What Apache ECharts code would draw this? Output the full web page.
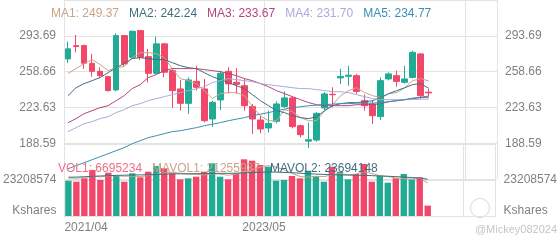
<!DOCTYPE html>
<html><head><meta charset="utf-8">
<script src="https://cdn.jsdelivr.net/npm/echarts@6/dist/echarts.min.js"></script>
<style>html,body{margin:0;padding:0;background:#fff}#c{width:560px;height:240px}</style>
</head><body><div id="c"></div>
<script>
// ---------- data ----------
const months = ['2021/04','2021/05','2021/06','2021/07','2021/08','2021/09','2021/10','2021/11','2021/12',
 '2022/01','2022/02','2022/03','2022/04','2022/05','2022/06','2022/07','2022/08','2022/09','2022/10','2022/11','2022/12',
 '2023/01','2023/02','2023/03','2023/04','2023/05','2023/06','2023/07','2023/08','2023/09','2023/10','2023/11','2023/12',
 '2024/01','2024/02','2024/03','2024/04','2024/05','2024/06','2024/07','2024/08','2024/09','2024/10','2024/11','2024/12',
 '2025/01'];
const blankSlots = 8;
const openP  = [271.1,284.0,284.1,266.8,258.9,253.7,240.7,293.9,272.6,298.8,273.3,257.0,285.8,259.6,241.7,227.6,249.1,241.7,212.3,230.9,258.9,248.2,244.9,224.4,211.3,203.5,210.0,224.4,232.9,205.7,190.6,191.7,223.1,236.5,252.5,254.0,254.7,230.2,227.0,214.6,251.5,254.7,248.2,253.0,276.0,238.5];
const closeP = [280.9,283.2,266.8,258.9,254.7,240.0,293.9,266.2,298.1,272.6,257.0,285.8,258.0,240.0,227.6,250.5,243.3,210.6,228.6,257.0,246.6,246.2,225.3,212.3,202.5,208.0,227.0,232.9,204.8,196.9,192.0,217.8,236.8,236.0,253.8,255.2,239.3,225.3,215.5,249.8,256.4,249.1,251.5,277.5,235.1,237.8];
const lowP   = [267.2,277.5,261.3,253.7,252.5,239.3,239.3,264.0,271.0,270.0,248.2,256.0,253.0,223.1,220.4,217.2,240.0,209.0,204.6,221.1,237.4,237.0,220.4,197.6,198.2,199.2,208.0,223.0,203.0,194.3,183.9,190.0,220.4,223.7,246.6,244.9,237.0,220.4,207.4,211.3,250.0,243.9,247.0,252.0,231.9,234.2];
const highP  = [288.0,294.5,285.1,276.0,262.9,254.7,296.1,294.5,299.0,299.5,280.9,292.9,286.5,261.3,250.5,253.0,264.5,251.5,230.2,259.6,262.9,262.0,251.5,227.0,215.5,220.4,229.5,239.3,234.5,207.0,208.9,219.0,238.6,243.3,261.3,264.5,256.4,236.1,230.2,253.0,258.0,259.6,264.5,279.2,276.5,241.7];
const ma1 = [256.7,261.6,266.5,270.4,265.5,259.6,262.5,263.5,272.3,277.2,277.2,276.3,272.3,261.6,251.8,249.8,246.9,240.0,232.2,237.1,238.1,238.1,235.1,224.3,215.5,210.6,210.6,221.4,219.4,213.6,210.6,210.6,220.4,226.3,235.1,240.0,242.9,238.1,235.1,233.2,237.1,238.1,242.9,249.8,251.8,249.37];
const ma2 = [235.1,242.9,246.9,249.8,252.8,257.6,262.5,266.5,271.4,272.3,271.4,270.4,270.4,267.4,264.5,262.5,261.6,257.6,253.7,250.8,247.9,244.9,242.0,236.1,230.2,225.3,220.4,218.5,215.5,213.6,212.6,214.5,220.4,225.3,227.3,228.3,228.3,229.2,230.2,233.2,237.1,240.0,242.9,245.9,246.9,242.24];
const ma3 = [208.7,212.6,217.5,220.4,223.4,225.3,230.2,235.1,242.0,245.9,252.8,255.7,259.6,261.6,261.6,261.6,261.6,260.6,259.6,258.6,256.7,254.7,251.8,249.8,246.9,243.9,240.0,237.1,234.1,231.2,228.3,226.3,225.3,225.3,225.3,225.3,226.3,226.3,226.3,227.3,229.2,230.2,231.2,232.2,233.2,233.67];
const ma4 = [199.9,203.8,207.7,209.7,212.6,214.5,218.5,221.4,225.3,227.3,230.2,232.2,234.1,236.1,238.1,240.0,242.0,243.9,247.9,249.8,251.8,250.8,249.8,248.8,246.9,245.9,244.9,243.9,242.9,242.0,242.0,241.0,240.0,239.0,239.0,238.1,236.1,234.1,232.2,231.2,231.2,231.2,231.2,231.2,231.7,231.70];
const ma5 = [163.6,166.6,169.5,172.4,175.4,178.3,181.3,184.2,188.1,191.0,194.0,195.9,197.9,199.9,200.8,202.3,203.8,205.7,207.2,208.7,210.6,212.1,213.6,215.5,217.0,218.5,220.4,221.9,223.4,224.3,225.3,225.8,226.3,226.8,227.3,227.3,227.8,227.8,227.8,228.3,229.2,230.2,231.2,232.7,233.6,234.77];
const volume = [22760000,22110000,24300000,29660000,23210000,27920000,25790000,22110000,27530000,24950000,28560000,32240000,30750000,27530000,23660000,24300000,25340000,28560000,33980000,25340000,23660000,27530000,36550000,35650000,32880000,31780000,22760000,23210000,25790000,24300000,29200000,25790000,22110000,31780000,28560000,23660000,27080000,33520000,22110000,25900000,21470000,24300000,27080000,23660000,24950000,6695234];
const mavol1 = [24500000,24300000,24800000,25600000,25200000,25800000,26000000,25600000,25700000,25400000,26000000,27000000,27800000,28200000,27600000,27000000,26800000,26500000,27200000,27000000,26300000,27000000,28500000,29800000,31500000,32500000,31500000,29800000,27500000,25500000,25000000,25600000,25400000,26500000,27500000,26500000,27000000,28500000,27500000,26000000,25500000,24500000,24000000,23800000,24500000,21255937];
const mavol2 = [25000000,25100000,25300000,25600000,25800000,26000000,26200000,26300000,26400000,26500000,26600000,26800000,27000000,27100000,27200000,27200000,27300000,27300000,27400000,27500000,27500000,27600000,27800000,28000000,28200000,28400000,28300000,28100000,27900000,27600000,27300000,27000000,26800000,26600000,26500000,26400000,26300000,26200000,26000000,25800000,25600000,25400000,25100000,24800000,24500000,23694148];
const priceTickLabels = ['153.56','188.59','223.63','258.66','293.69','328.72'];
const volumeTickLabels = ['Kshares','23208574','46417148'];

// ---------- build ----------
const FONT = 'Liberation Sans, Arial, sans-serif';
const UP = '#22ab94', DOWN = '#f2476a';
const GRID_LINE = '#e3e3e3', LABEL = '#808080';
const maColors = ['#c7a587','#3f6e7e','#b2467f','#a9abdc','#3b8db3'];
const volColors = ['#ef6f86','#c7a587','#3f6e7e'];

const cats = months.concat(new Array(blankSlots).fill(''));
const boundaryCats = cats.concat(['']);
const pNum = priceTickLabels.map(Number);
const pMin = pNum[0], pMax = pNum[pNum.length-1];
const pStep = (pMax - pMin) / (pNum.length - 1);
const vNum = [0, Number(volumeTickLabels[1]), Number(volumeTickLabels[2])];

function priceLabel(v){
  let bi = -1, d = 1e9;
  pNum.forEach((p,i)=>{ const dd=Math.abs(p-v); if(dd<d){d=dd;bi=i;} });
  if (d > 1 || bi === 0 || bi === pNum.length-1) return '';
  return priceTickLabels[bi];
}
function volLabel(v){
  if (Math.abs(v) < 1) return '{k|' + volumeTickLabels[0] + '}';
  if (Math.abs(v - vNum[1]) < 1) return volumeTickLabels[1];
  return '';
}
const maSeries = [ma1,ma2,ma3,ma4,ma5];
const maNames = ['MA1','MA2','MA3','MA4','MA5'];
const lastOf = a => a[a.length-1];
const legendText = {
  MA1: 'MA1: ' + lastOf(ma1).toFixed(2), MA2: 'MA2: ' + lastOf(ma2).toFixed(2),
  MA3: 'MA3: ' + lastOf(ma3).toFixed(2), MA4: 'MA4: ' + lastOf(ma4).toFixed(2),
  MA5: 'MA5: ' + lastOf(ma5).toFixed(2),
  VOL1: 'VOL1: ' + lastOf(volume), MAVOL1: 'MAVOL1: ' + lastOf(mavol1), MAVOL2: 'MAVOL2: ' + lastOf(mavol2)
};

const axisLabelBase = {color: LABEL, fontSize: 12, fontFamily: FONT};
function priceY(pos){
  return {type:'value', gridIndex:0, position:pos, min:pMin, max:pMax, interval:pStep,
    axisLine:{show:false}, axisTick:{show:false},
    splitLine:{show: pos==='left', lineStyle:{color:GRID_LINE}},
    axisLabel:Object.assign({}, axisLabelBase, {formatter: priceLabel})};
}
function volY(pos){
  return {type:'value', gridIndex:1, position:pos, min:0, max:vNum[2], interval:vNum[1],
    axisLine:{show:false}, axisTick:{show:false},
    splitLine:{show: pos==='left', lineStyle:{color:GRID_LINE}},
    axisLabel:Object.assign({}, axisLabelBase, {formatter: volLabel,
      rich:{k:{color:LABEL, fontSize:12, fontFamily:FONT, padding:[0,0,10,0]}}})};
}
const volumeItems = volume.map((v,i)=>({value:v, itemStyle:{color: closeP[i] >= openP[i] ? UP : DOWN}}));

const option = {
  animation:false,
  grid:[{left:64, right:63, top:0, height:179}, {left:64, right:63, top:144, height:72}],
  legend:[
    {left:41, top:3, icon:'none', itemWidth:0, itemHeight:0, itemGap:5, selectedMode:false,
     textStyle:{fontSize:12, fontFamily:FONT},
     data: maNames.map((n,i)=>({name:n, textStyle:{color:maColors[i]}})),
     formatter: n => legendText[n]},
    {left:48, top:158, icon:'none', itemWidth:0, itemHeight:0, itemGap:5, selectedMode:false,
     textStyle:{fontSize:12, fontFamily:FONT},
     data: ['VOL1','MAVOL1','MAVOL2'].map((n,i)=>({name:n, textStyle:{color:volColors[i]}})),
     formatter: n => legendText[n]}
  ],
  xAxis:[
    {type:'category', gridIndex:0, data:cats, boundaryGap:true, axisLine:{show:false}, axisTick:{show:false},
     axisLabel:{show:false}, splitLine:{show:true, interval:24, lineStyle:{color:GRID_LINE}}},
    {type:'category', gridIndex:1, data:cats, boundaryGap:true, position:'bottom',
     axisLine:{show:true, lineStyle:{color:GRID_LINE}}, axisTick:{show:false},
     axisLabel:{show:false}, splitLine:{show:true, interval:24, lineStyle:{color:GRID_LINE}}},
    {type:'category', gridIndex:1, data:boundaryCats, boundaryGap:false, position:'bottom',
     axisLine:{show:false}, axisTick:{show:false}, splitLine:{show:false},
     axisLabel:Object.assign({}, axisLabelBase, {interval:24, margin:6, alignMinLabel:'left'})}
  ],
  yAxis:[priceY('left'), priceY('right'), volY('left'), volY('right')],
  series:[
    {type:'candlestick', name:'K', xAxisIndex:0, yAxisIndex:0, barWidth:'78%',
     data: openP.map((o,i)=>[o, closeP[i], lowP[i], highP[i]]),
     itemStyle:{color:UP, color0:DOWN, borderColor:UP, borderColor0:DOWN, borderWidth:1}}
  ].concat(maSeries.map((d,i)=>({type:'line', name:maNames[i], xAxisIndex:0, yAxisIndex:0, data:d,
     showSymbol:false, symbol:'none', lineStyle:{width:1, color:maColors[i]}, itemStyle:{color:maColors[i]}})))
   .concat([
    {type:'bar', name:'VOL1', xAxisIndex:1, yAxisIndex:2, data:volumeItems, barWidth:'80%',
     itemStyle:{color:DOWN}},
    {type:'line', name:'MAVOL1', xAxisIndex:1, yAxisIndex:2, data:mavol1, showSymbol:false, symbol:'none',
     lineStyle:{width:1, color:volColors[1]}, itemStyle:{color:volColors[1]}},
    {type:'line', name:'MAVOL2', xAxisIndex:1, yAxisIndex:2, data:mavol2, showSymbol:false, symbol:'none',
     lineStyle:{width:1, color:volColors[2]}, itemStyle:{color:volColors[2]}}
  ]),
  graphic:[
    {type:'circle', shape:{cx:480, cy:208, r:9.5}, style:{fill:'none', stroke:'#d6d6d6', lineWidth:1}, silent:true},
    {type:'text', style:{text:'@Mickey082024', x:516, y:230, fill:'#c4c4c4', fontSize:11, fontFamily:FONT, align:'center', verticalAlign:'middle'}, silent:true}
  ]
};
const chart = echarts.init(document.getElementById('c'), null, {renderer:'canvas'});
chart.setOption(option);
</script></body></html>
